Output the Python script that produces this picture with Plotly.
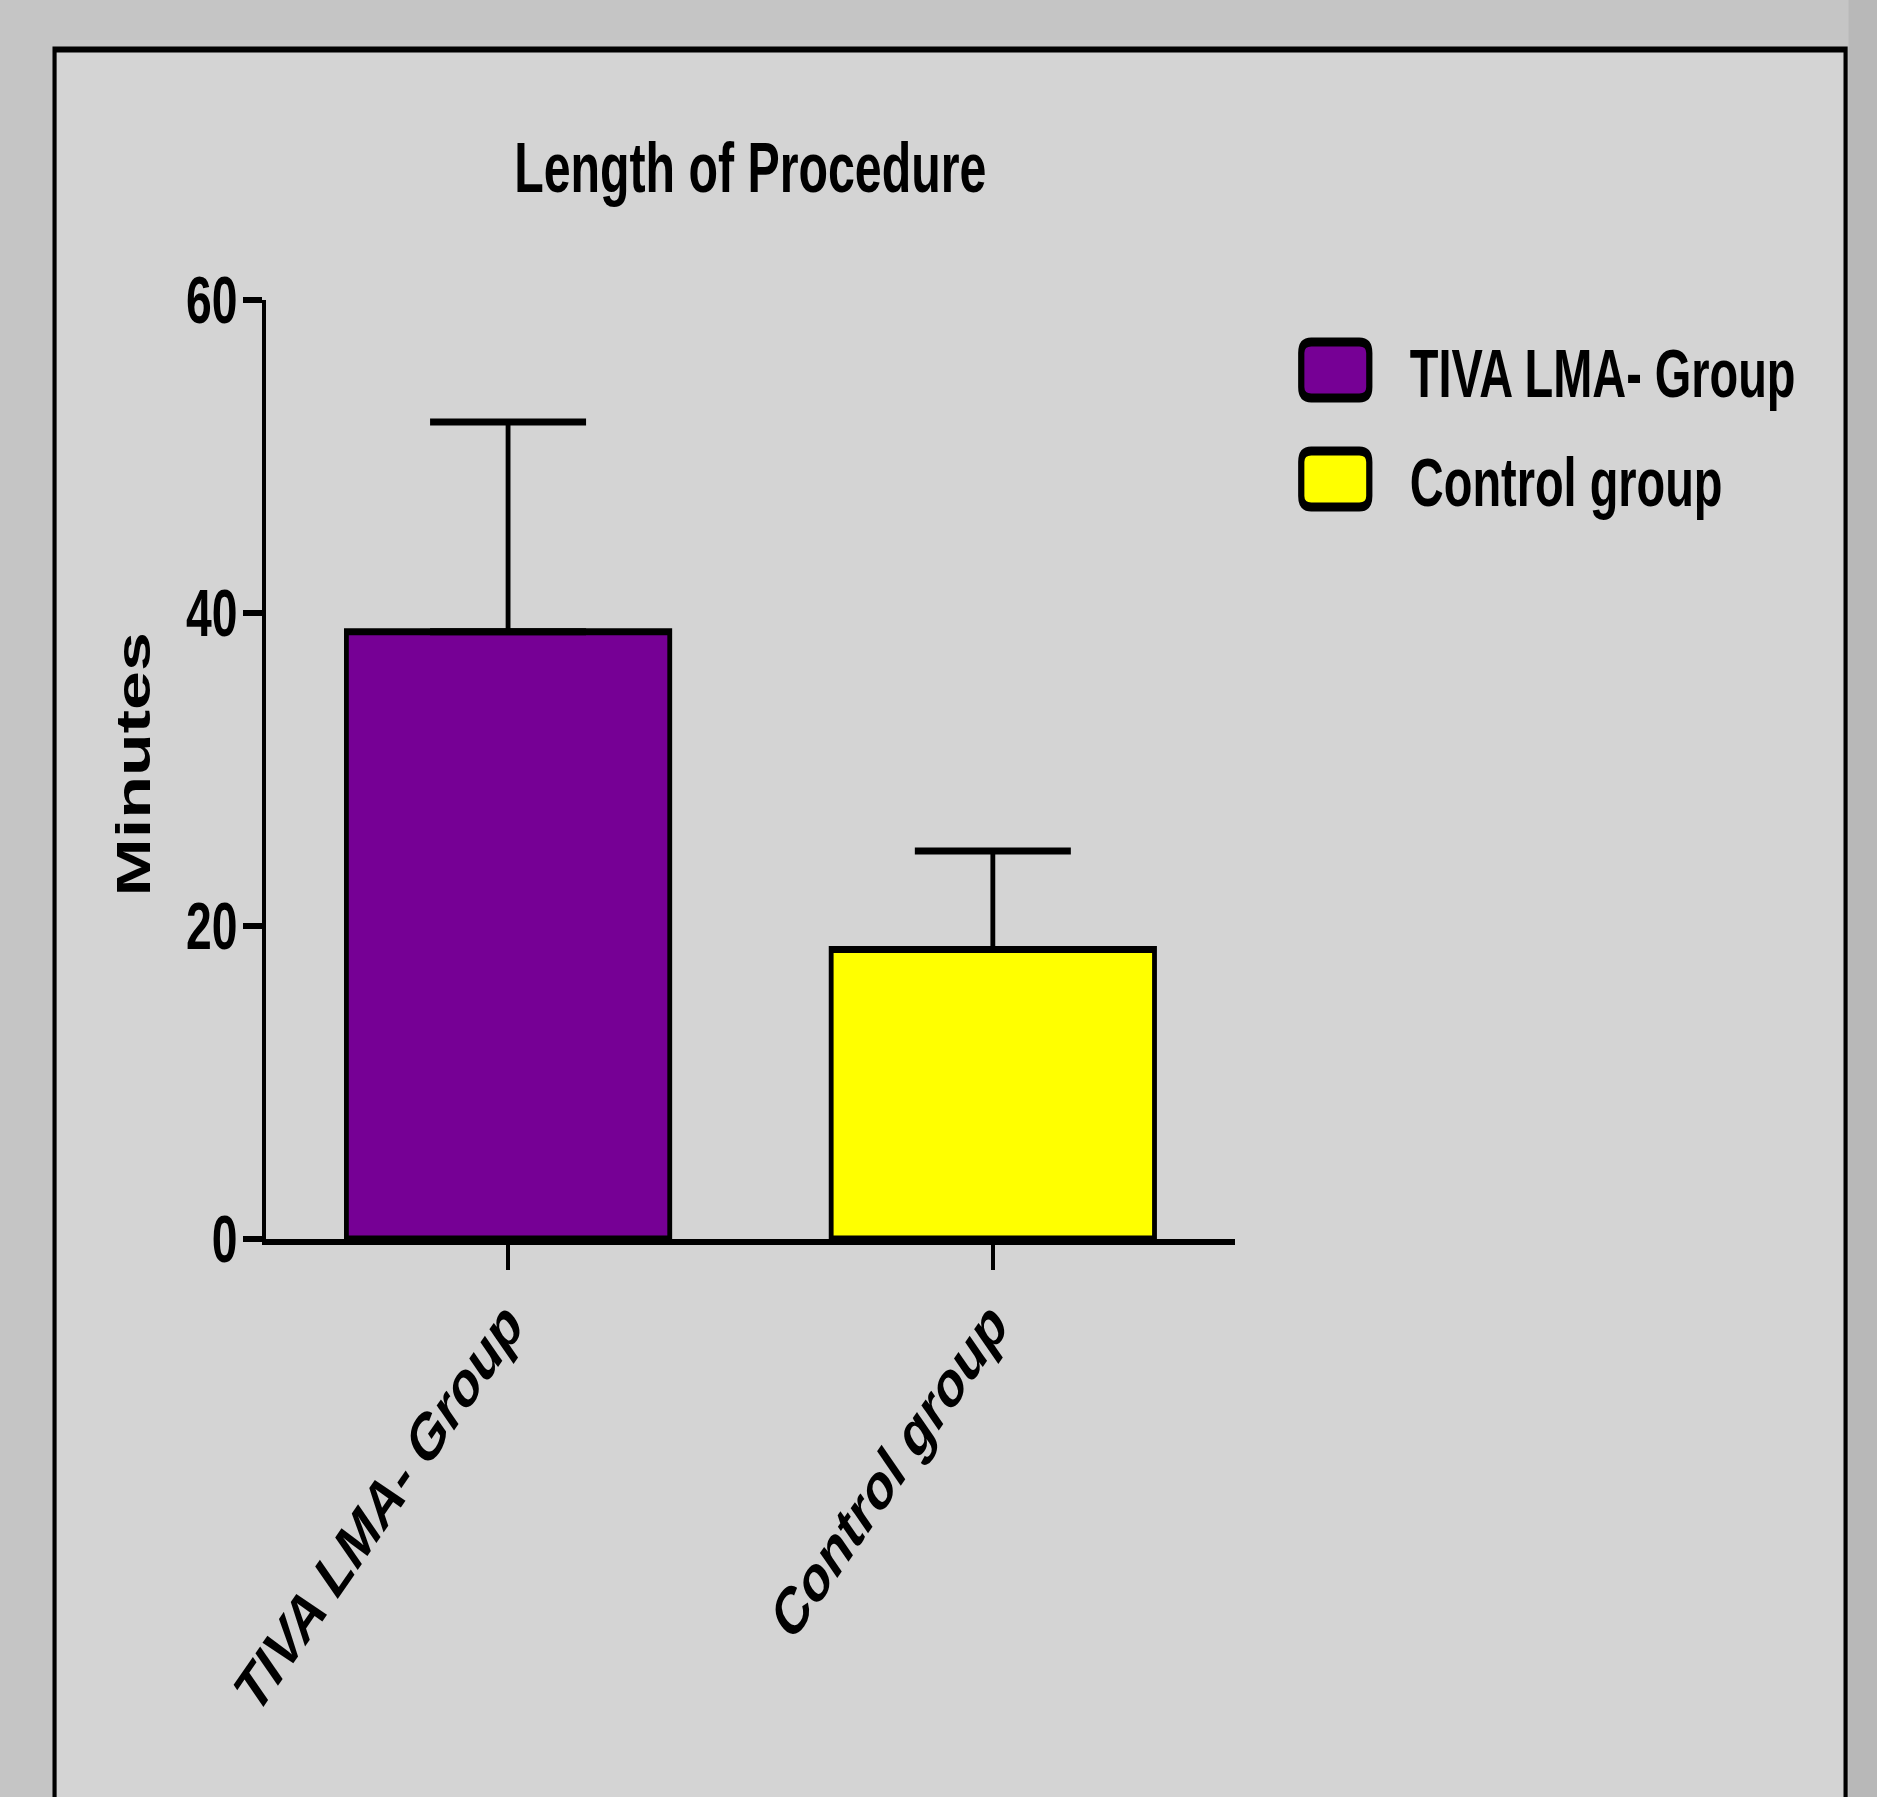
import plotly.graph_objects as go

# ---- data ----
categories = ["TIVA LMA- Group", "Control group"]
means = [38.8, 18.5]
sd_upper = [13.4, 6.3]
series_names = ["TIVA LMA- Group", "Control group"]
y_ticks = [0, 20, 40, 60]
title_text = "Length of Procedure"
y_title = "Minutes"

# ---- styles ----
bar_colors = ["#760095", "#ffff00"]
SQ = 0.69                     # horizontal squeeze of the whole picture (as in the reference)
W_SCREEN, H = 1877, 1797
W = round(W_SCREEN / SQ)      # figure width before the squeeze
SQ = W_SCREEN / W
L, R, T, B = 266, 1235, 300, 1239   # plot area in screen pixels
FONT = "Liberation Sans, Arial, Helvetica, sans-serif"


def ux(px):
    """screen x-length -> unsqueezed figure pixels"""
    return px / SQ


def px2x(px):
    return (px - L) / (R - L)


def px2y(py):
    return (B - py) / (B - T)


def rounded_rect(x0, y0, x1, y1, rx, ry):
    pts = [
        ("M", [(x0 + rx, y0)]), ("L", [(x1 - rx, y0)]), ("Q", [(x1, y0), (x1, y0 + ry)]),
        ("L", [(x1, y1 - ry)]), ("Q", [(x1, y1), (x1 - rx, y1)]),
        ("L", [(x0 + rx, y1)]), ("Q", [(x0, y1), (x0, y1 - ry)]),
        ("L", [(x0, y0 + ry)]), ("Q", [(x0, y0), (x0 + rx, y0)]),
    ]
    s = ""
    for cmd, ps in pts:
        s += cmd + " ".join(f"{px2x(a):.5f},{px2y(b):.5f}" for a, b in ps) + " "
    return s + "Z"


fig = go.Figure()
fig.add_trace(go.Bar(
    x=categories, y=means, width=0.667,
    marker=dict(color=bar_colors, line=dict(color="black", width=7)),
    error_y=dict(type="data", symmetric=False, array=sd_upper, arrayminus=[0] * len(sd_upper),
                 color="black", thickness=7, width=ux(78)),
    showlegend=False,
))

shapes = [
    dict(type="rect", xref="paper", yref="paper", layer="below",
         x0=px2x(55), x1=px2x(1845), y0=px2y(1850), y1=px2y(49.5),
         fillcolor="#d4d4d4", line=dict(color="black", width=6)),
    dict(type="rect", xref="paper", yref="paper", layer="below",
         x0=px2x(1848), x1=px2x(1890), y0=px2y(1810), y1=px2y(-10),
         fillcolor="#b8b8b8", line=dict(width=0)),
]
legend_boxes = [(342, 398), (451, 507)]
for (ya, yb), col in zip(legend_boxes, bar_colors):
    shapes.append(dict(type="path", xref="paper", yref="paper", layer="above",
                       path=rounded_rect(1301, ya, 1369, yb, 10, 11),
                       fillcolor=col, line=dict(color="black", width=9)))

annotations = [
    dict(text=title_text, xref="paper", yref="paper", x=px2x(750), y=px2y(168),
         xanchor="center", yanchor="middle", showarrow=False,
         font=dict(family=FONT, size=70, color="black", weight="bold")),
    dict(text=y_title, xref="paper", yref="paper", x=px2x(134), y=px2y(765),
         xanchor="center", yanchor="middle", showarrow=False, textangle=-90,
         font=dict(family=FONT, size=70, color="black", weight="bold")),
]
for (ya, yb), name in zip(legend_boxes, series_names):
    annotations.append(dict(text=name, xref="paper", yref="paper", x=px2x(1408), y=px2y((ya + yb) / 2 + 3),
                            xanchor="left", yanchor="middle", showarrow=False,
                            font=dict(family=FONT, size=68, color="black", weight="bold")))

fig.update_layout(
    template="none",
    width=W, height=H, autosize=False,
    margin=dict(l=ux(L), r=W - ux(R), t=T, b=H - B, pad=0),
    paper_bgcolor="#c5c5c5", plot_bgcolor="rgba(0,0,0,0)",
    showlegend=False,
    shapes=shapes, annotations=annotations,
    xaxis=dict(range=[-0.5, 1.5], showline=True, linecolor="black", linewidth=6,
               ticks="outside", ticklen=25, tickwidth=6, tickcolor="black",
               showgrid=False, zeroline=False, tickangle=-45, automargin=False,
               ticklabelstandoff=-12,
               tickfont=dict(family=FONT, size=67, color="black", weight="bold")),
    yaxis=dict(range=[0, 60], tickvals=y_ticks, showline=True, linecolor="black", linewidth=6,
               ticks="outside", ticklen=ux(19), tickwidth=6, tickcolor="black",
               showgrid=False, zeroline=False, automargin=False,
               ticklabelstandoff=-6,
               tickfont=dict(family=FONT, size=67, color="black", weight="bold")),
)

post = (
    "var gd = document.getElementById('{plot_id}');"
    "document.documentElement.style.overflow='hidden';"
    "document.body.style.margin='0';document.body.style.overflow='hidden';"
    "gd.style.transformOrigin='0 0';"
    f"gd.style.transform='scaleX({SQ:.5f})';"
)
fig.write_html("out.html", post_script=post, config={"displayModeBar": False})
